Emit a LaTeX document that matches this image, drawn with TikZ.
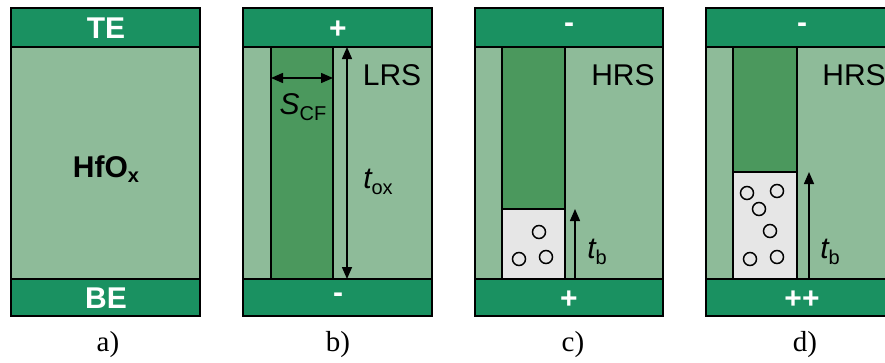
\documentclass[tikz,border=0pt]{standalone}
\usepackage{fontspec}
\setmainfont{Liberation Serif}
\setsansfont{Liberation Sans}
\usetikzlibrary{arrows.meta}
\definecolor{elecgreen}{HTML}{1A9161}
\definecolor{oxgreen}{HTML}{8EBB99}
\definecolor{cfgreen}{HTML}{4B985D}
\definecolor{gapgray}{HTML}{E6E6E6}
\newcommand{\bigsf}{\sffamily\fontsize{30}{32}\selectfont}
\newcommand{\subsf}[1]{\raisebox{-5.5pt}{\fontsize{20}{21}\selectfont #1}}
\begin{document}
\begin{tikzpicture}[x=1pt,y=-1pt,
  elec/.style={fill=elecgreen,draw=black,line width=1.8pt},
  oxide/.style={fill=oxgreen,draw=black,line width=1.8pt},
  cfbox/.style={fill=cfgreen,draw=black,line width=1.8pt},
  gapbox/.style={fill=gapgray,draw=black,line width=1.8pt},
  vac/.style={circle,draw=black,line width=1.5pt,minimum size=13pt,inner sep=0pt},
  lbl/.style={font=\bigsf,text=black,inner sep=0pt},
  elab/.style={font=\bigsf\bfseries,text=white,inner sep=0pt},
  caplbl/.style={font=\fontsize{29}{30}\selectfont,inner sep=0pt},
  dimarrow/.style={line width=1.5pt,{Triangle[length=12pt,width=10pt]}-{Triangle[length=12pt,width=10pt]}},
  uparrow/.style={line width=1.5pt,-{Triangle[length=12pt,width=10pt]}}]
\useasboundingbox (0,0) rectangle (885,362);
\clip (0,0) rectangle (885,362);
\fill[white] (0,0) rectangle (885,362);

% ---------- panel a
\draw[oxide] (11,47) rectangle (200,279);
\draw[elec] (11,8) rectangle (200,47);
\draw[elec] (11,279) rectangle (200,316);
\node[elab] (aTE) at (106,28) {TE};
\node[elab] (aBE) at (106,298) {BE};
\node[lbl,font=\bigsf\bfseries] (ahf) at (106,169) {HfO\subsf{\bfseries x}};
\node[caplbl] (acap) at (108,345) {a)};

% ---------- panel b
\draw[oxide] (243,47) rectangle (432,279);
\draw[cfbox] (271,47) rectangle (333,279);
\draw[elec] (243,8) rectangle (432,47);
\draw[elec] (243,279) rectangle (432,316);
\node[elab] (bT) at (338,30) {+};
\node[elab] (bB) at (338,298) {-};
\coordinate (bS1) at (271,78);
\coordinate (bS2) at (333,78);
\draw[dimarrow] (bS1) -- (bS2);
\coordinate (bt1) at (347,47);
\coordinate (bt2) at (347,279);
\draw[dimarrow] (bt1) -- (bt2);
\node[lbl] (bLRS) at (392,75) {LRS};
\node[lbl] (bscf) at (303,107) {\itshape S\subsf{\upshape CF}};
\node[lbl] (btox) at (378,182) {\itshape t\subsf{\upshape ox}};
\node[caplbl] (bcap) at (338,345) {b)};

% ---------- panel c
\draw[oxide] (475,47) rectangle (663,279);
\draw[cfbox] (502,47) rectangle (565,209);
\draw[gapbox] (502,209) rectangle (565,279);
\draw[elec] (475,8) rectangle (663,47);
\draw[elec] (475,279) rectangle (663,316);
\node[elab] (cT) at (569,28) {-};
\node[elab] (cB) at (569,300) {+};
\node[vac] (cv1) at (539,232) {};
\node[vac] (cv2) at (519,259) {};
\node[vac] (cv3) at (546,257) {};
\coordinate (ct1) at (575,279);
\coordinate (ct2) at (575,209);
\draw[uparrow] (ct1) -- (ct2);
\node[lbl] (cHRS) at (623,75) {HRS};
\node[lbl] (ctb) at (597,252) {\itshape t\subsf{\upshape b}};
\node[caplbl] (ccap) at (573,345) {c)};

% ---------- panel d
\draw[oxide] (706,47) rectangle (895,279);
\draw[cfbox] (733,47) rectangle (797,172);
\draw[gapbox] (733,172) rectangle (797,279);
\draw[elec] (706,8) rectangle (895,47);
\draw[elec] (706,279) rectangle (895,316);
\node[elab] (dT) at (802,28) {-};
\node[elab] (dB) at (802,300) {++};
\node[vac] (dv1) at (747,193) {};
\node[vac] (dv2) at (777,191) {};
\node[vac] (dv3) at (759,209) {};
\node[vac] (dv4) at (770,231) {};
\node[vac] (dv5) at (750,259) {};
\node[vac] (dv6) at (777,257) {};
\coordinate (dt1) at (809,279);
\coordinate (dt2) at (809,172);
\draw[uparrow] (dt1) -- (dt2);
\node[lbl] (dHRS) at (854,75) {HRS};
\node[lbl] (dtb) at (830,252) {\itshape t\subsf{\upshape b}};
\node[caplbl] (dcap) at (805,345) {d)};
\end{tikzpicture}
\end{document}
